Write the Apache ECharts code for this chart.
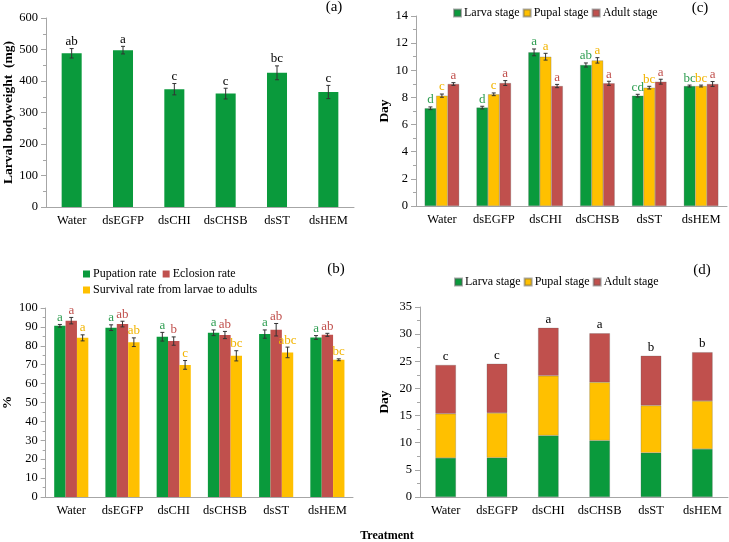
<!DOCTYPE html>
<html><head><meta charset="utf-8">
<script src="https://cdn.jsdelivr.net/npm/echarts@6/dist/echarts.min.js"></script>
<style>html,body{margin:0;padding:0;background:#fff}#c{width:729px;height:542px}</style>
</head><body><div id="c"></div>
<script>
const treatments = ['Water','dsEGFP','dsCHI','dsCHSB','dsST','dsHEM'];
// (a) larval bodyweight (mg)
const bodyweight = [488, 498, 374, 360, 426, 365];
const bodyweightErr = [15, 12, 18, 17, 22, 21];
const bodyweightSig = ['ab','a','c','c','bc','c'];
// (b) rates (%)
const pupationRate = [90.6, 89.6, 84.8, 86.9, 86.2, 84.4];
const pupationErr = [0.7, 1.5, 2.3, 1.5, 2.2, 1.0];
const pupationSig = ['a','a','a','a','a','a'];
const eclosionRate = [93.3, 91.5, 82.5, 85.7, 88.5, 85.8];
const eclosionErr = [1.7, 1.5, 2.2, 1.9, 3.3, 0.8];
const eclosionSig = ['a','ab','b','ab','ab','ab'];
const survivalRate = [84.2, 81.9, 69.9, 74.7, 76.5, 72.6];
const survivalErr = [1.6, 2.3, 2.3, 2.7, 2.8, 0.5];
const survivalSig = ['a','ab','c','bc','abc','bc'];
// (c) stage durations (day)
const larvaDays = [7.2, 7.25, 11.32, 10.39, 8.13, 8.84];
const larvaErr = [0.1, 0.1, 0.25, 0.15, 0.1, 0.07];
const larvaSig = ['d','d','a','ab','cd','bc'];
const pupalDays = [8.13, 8.23, 11.0, 10.73, 8.72, 8.84];
const pupalErr = [0.12, 0.1, 0.25, 0.2, 0.1, 0.07];
const pupalSig = ['c','c','a','a','bc','bc'];
const adultDays = [8.99, 9.06, 8.84, 9.04, 9.16, 8.99];
const adultErr = [0.1, 0.18, 0.12, 0.15, 0.18, 0.18];
const adultSig = ['a','a','a','a','a','a'];
// (d) total development time letters
const totalSig = ['c','c','a','a','b','b'];

const GREEN = '#0a9a3c', RED = '#c0504d', YELLOW = '#ffc000';
const TGREEN = '#2f9e52', TRED = '#c0504d', TYELLOW = '#f2b400';
const FONT = 'Liberation Serif';

function errSeries(ai, vals, errs, sig, offsetFrac, textColor) {
  return {
    type: 'custom', xAxisIndex: ai, yAxisIndex: ai, z: 10, silent: true,
    data: vals.map((v, i) => [i, v, errs ? errs[i] : 0]),
    renderItem(params, api) {
      const i = api.value(0), v = api.value(1), e = api.value(2);
      const base = api.coord([i, v]);
      const band = api.size([1, 0])[0];
      const cx = base[0] + offsetFrac * band;
      const top = api.coord([i, v + e])[1];
      const bot = api.coord([i, v - e])[1];
      const children = [];
      const ls = { stroke: '#333', lineWidth: 1 };
      if (e > 0) {
        children.push({ type: 'line', shape: { x1: cx, y1: top, x2: cx, y2: bot }, style: ls });
        children.push({ type: 'line', shape: { x1: cx - 2, y1: top, x2: cx + 2, y2: top }, style: ls });
        children.push({ type: 'line', shape: { x1: cx - 2, y1: bot, x2: cx + 2, y2: bot }, style: ls });
      }
      children.push({
        type: 'text', x: cx, y: top - (e > 0 ? 0.5 : 2),
        style: { text: sig[params.dataIndex], fill: textColor, font: '13px "' + FONT + '"',
          textAlign: 'center', textVerticalAlign: 'bottom', align: 'center', verticalAlign: 'bottom' }
      });
      return { type: 'group', children };
    }
  };
}

function xAx(gi) {
  return { type: 'category', gridIndex: gi, data: treatments,
    axisLine: { lineStyle: { color: '#a6a6a6' } },
    axisTick: { length: 5, lineStyle: { color: '#a6a6a6' } },
    axisLabel: { interval: 0, color: '#000', fontFamily: FONT, fontSize: 12.5, margin: 7 } };
}
function yAx(gi, max, interval, name, gap) {
  return { type: 'value', gridIndex: gi, min: 0, max: max, interval: interval,
    name: name, nameLocation: 'middle', nameGap: gap, nameRotate: 90,
    nameTextStyle: { color: '#000', fontFamily: FONT, fontWeight: 'bold', fontSize: 13.5 },
    axisLine: { show: true, lineStyle: { color: '#a6a6a6' } },
    axisTick: { show: true, length: 5, lineStyle: { color: '#a6a6a6' } },
    minorTick: { show: true, splitNumber: 2, length: 3, lineStyle: { color: '#a6a6a6' } },
    splitLine: { show: false },
    axisLabel: { color: '#000', fontFamily: FONT, fontSize: 12.5, margin: 8 } };
}
const legText = { color: '#000', fontFamily: FONT, fontSize: 12, padding: [0, 0, 0, -2] };
function leg(names, left, top, gap) {
  return { data: names, left: left, top: top, padding: 0, itemGap: gap, itemWidth: 7, itemHeight: 7,
    icon: 'rect', selectedMode: false, textStyle: legText };
}
function ttl(text, left, top, size, bold) {
  return { text: text, left: left, top: top, textAlign: 'center', padding: 0,
    textStyle: { color: '#000', fontFamily: FONT, fontSize: size, fontWeight: bold ? 'bold' : 'normal' } };
}

const W3 = '22.2%';
const totals = larvaDays.map((v, i) => v + pupalDays[i] + adultDays[i]);
const edge = { borderColor: 'rgba(90,90,90,0.5)', borderWidth: 0.5 };

const option = {
  animation: false,
  backgroundColor: '#fff',
  title: [
    ttl('(a)', 334, 0, 15), ttl('(c)', 700, 1, 15), ttl('(b)', 336, 262, 15), ttl('(d)', 702, 263, 15),
    ttl('Treatment', 387, 530, 12, true)
  ],
  legend: [
    leg(['Larva stage', 'Pupal stage', 'Adult stage'], 453, 7, 3),
    leg(['Pupation rate', 'Eclosion rate'], 83, 268, 6),
    leg(['Survival rate from larvae to adults'], 83, 284, 4),
    leg(['Larva stage', 'Pupal stage', 'Adult stage'], 454, 276, 3)
  ],
  grid: [
    { left: 46, top: 18, width: 308, height: 189 },
    { left: 45, top: 308, width: 308, height: 189 },
    { left: 416, top: 16, width: 311, height: 190 },
    { left: 420, top: 307, width: 308, height: 190 }
  ],
  xAxis: [xAx(0), xAx(1), xAx(2), xAx(3)],
  yAxis: [
    yAx(0, 600, 100, 'Larval bodyweight  (mg)', 27),
    yAx(1, 100, 10, '%', 30),
    yAx(2, 14, 2, 'Day', 22),
    yAx(3, 35, 5, 'Day', 28)
  ],
  series: [
    // (a)
    { type: 'bar', name: 'Larval bodyweight', xAxisIndex: 0, yAxisIndex: 0, data: bodyweight, barWidth: '39%',
      itemStyle: { color: GREEN } },
    errSeries(0, bodyweight, bodyweightErr, bodyweightSig, 0, '#000'),
    // (b)
    { type: 'bar', name: 'Pupation rate', xAxisIndex: 1, yAxisIndex: 1, data: pupationRate, barWidth: W3, barGap: '0%', itemStyle: { color: GREEN } },
    { type: 'bar', name: 'Eclosion rate', xAxisIndex: 1, yAxisIndex: 1, data: eclosionRate, barWidth: W3, barGap: '0%', itemStyle: { color: RED } },
    { type: 'bar', name: 'Survival rate from larvae to adults', xAxisIndex: 1, yAxisIndex: 1, data: survivalRate, barWidth: W3, barGap: '0%', itemStyle: { color: YELLOW } },
    errSeries(1, pupationRate, pupationErr, pupationSig, -0.222, TGREEN),
    errSeries(1, eclosionRate, eclosionErr, eclosionSig, 0, TRED),
    errSeries(1, survivalRate, survivalErr, survivalSig, 0.222, TYELLOW),
    // (c)
    { type: 'bar', name: 'Larva stage', xAxisIndex: 2, yAxisIndex: 2, data: larvaDays, barWidth: W3, barGap: '0%', itemStyle: Object.assign({ color: GREEN }, edge) },
    { type: 'bar', name: 'Pupal stage', xAxisIndex: 2, yAxisIndex: 2, data: pupalDays, barWidth: W3, barGap: '0%', itemStyle: Object.assign({ color: YELLOW }, edge) },
    { type: 'bar', name: 'Adult stage', xAxisIndex: 2, yAxisIndex: 2, data: adultDays, barWidth: W3, barGap: '0%', itemStyle: Object.assign({ color: RED }, edge) },
    errSeries(2, larvaDays, larvaErr, larvaSig, -0.222, TGREEN),
    errSeries(2, pupalDays, pupalErr, pupalSig, 0, TYELLOW),
    errSeries(2, adultDays, adultErr, adultSig, 0.222, TRED),
    // (d)
    { type: 'bar', name: 'Larva stage', xAxisIndex: 3, yAxisIndex: 3, stack: 'total', data: larvaDays, barWidth: '40%', itemStyle: Object.assign({ color: GREEN }, edge) },
    { type: 'bar', name: 'Pupal stage', xAxisIndex: 3, yAxisIndex: 3, stack: 'total', data: pupalDays, barWidth: '40%', itemStyle: Object.assign({ color: YELLOW }, edge) },
    { type: 'bar', name: 'Adult stage', xAxisIndex: 3, yAxisIndex: 3, stack: 'total', data: adultDays, barWidth: '40%', itemStyle: Object.assign({ color: RED }, edge) },
    errSeries(3, totals, null, totalSig, 0, '#000')
  ]
};
const chart = echarts.init(document.getElementById('c'), null, { renderer: 'canvas' });
chart.setOption(option);
</script></body></html>
